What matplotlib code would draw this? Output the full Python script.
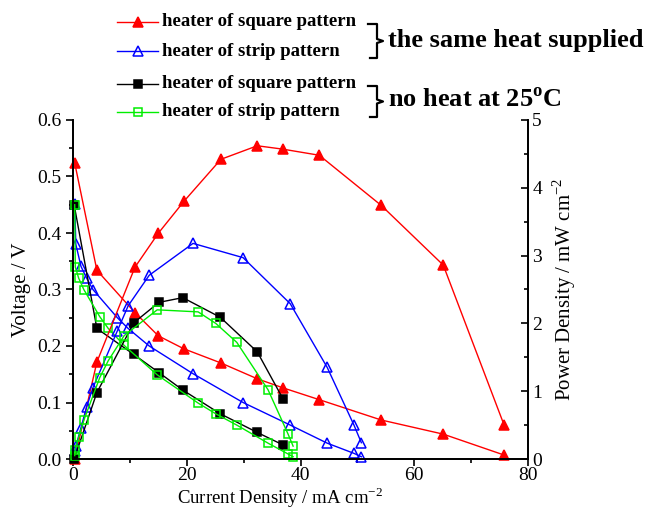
import matplotlib
matplotlib.use("Agg")
import matplotlib.pyplot as plt
from matplotlib.lines import Line2D
import matplotlib.ticker as ticker

plt.rcParams['font.family'] = ['Liberation Serif', 'DejaVu Serif']
plt.rcParams['mathtext.fontset'] = 'custom'
plt.rcParams['mathtext.rm'] = 'Liberation Serif'
plt.rcParams['mathtext.bf'] = 'Liberation Serif:bold'

# heated, square pattern
red_i = [0.3, 4.2, 10.9, 15.0, 19.5, 26.0, 32.4, 36.9, 43.3, 54.2, 65.1, 75.8]
red_v = [0.524, 0.334, 0.259, 0.218, 0.195, 0.170, 0.142, 0.126, 0.105, 0.069, 0.044, 0.007]
red_p = [0.0, 1.43, 2.83, 3.33, 3.80, 4.42, 4.62, 4.57, 4.48, 3.74, 2.86, 0.50]

# heated, strip pattern
blue_i = [0.3, 0.5, 1.4, 2.4, 3.5, 7.8, 9.7, 13.4, 21.1, 29.9, 38.2, 44.7, 49.4, 50.7]
blue_v = [0.452, 0.380, 0.341, 0.320, 0.300, 0.250, 0.231, 0.200, 0.151, 0.100, 0.060, 0.028, 0.010, 0.004]
blue_p = [0.12, 0.19, 0.46, 0.77, 1.05, 1.89, 2.26, 2.71, 3.18, 2.97, 2.29, 1.35, 0.50, 0.24]

# no heat, square pattern
black_i = [0.2, 4.2, 10.7, 15.1, 19.3, 25.9, 32.4, 36.9]
black_v = [0.45, 0.231, 0.185, 0.153, 0.122, 0.080, 0.047, 0.025]
black_p = [0.0, 0.98, 2.01, 2.31, 2.38, 2.09, 1.58, 0.89]

# no heat, strip pattern
green_i = [0.3, 0.4, 1.0, 1.9, 4.7, 6.2, 9.0, 14.8, 22.0, 25.1, 28.8, 34.3, 37.8, 38.7]
green_v = [0.45, 0.34, 0.32, 0.30, 0.252, 0.231, 0.201, 0.149, 0.099, 0.080, 0.060, 0.028, 0.009, 0.004]
green_p = [0.05, 0.14, 0.32, 0.57, 1.20, 1.45, 1.82, 2.20, 2.17, 2.00, 1.72, 1.02, 0.37, 0.19]

W, H = 656, 511
fig = plt.figure(figsize=(W / 100, H / 100), dpi=100)
ax = fig.add_axes([73 / W, 1 - 459 / H, (528 - 73) / W, (459 - 120) / H])
ax2 = ax.twinx()

styles = [
    ('red', '^', 'red', 7),
    ('blue', '^', 'none', 7),
    ('black', 's', 'black', 5.5),
    ('#00ee00', 's', 'none', 5.5),
]
series = [(red_i, red_v, red_p), (blue_i, blue_v, blue_p),
          (black_i, black_v, black_p), (green_i, green_v, green_p)]

for (c, m, fc, ms), (i, v, p) in zip(styles, series):
    kw = dict(color=c, marker=m, markerfacecolor=fc, markeredgecolor=c,
              markersize=ms, linewidth=1, markeredgewidth=1.1, clip_on=False)
    ax.plot(i, v, **kw)
    ax2.plot(i, p, **kw)

ax.set_xlim(0, 80)
ax.set_ylim(0, 0.6)
ax2.set_ylim(0, 5)
ax.xaxis.set_major_locator(ticker.MultipleLocator(20))
ax.xaxis.set_minor_locator(ticker.MultipleLocator(10))
ax.yaxis.set_major_locator(ticker.MultipleLocator(0.1))
ax.yaxis.set_minor_locator(ticker.MultipleLocator(0.05))
ax.yaxis.set_major_formatter(ticker.FormatStrFormatter('%.1f'))
ax2.yaxis.set_major_locator(ticker.MultipleLocator(1))
ax2.yaxis.set_minor_locator(ticker.MultipleLocator(0.5))

for a in (ax, ax2):
    a.spines['top'].set_visible(False)
    for s in a.spines.values():
        s.set_linewidth(1.3)
ax.tick_params(which='both', direction='out', labelsize=14, width=1.2)
ax.tick_params(axis='x', pad=1)
ax.tick_params(which='major', length=5)
ax.tick_params(which='minor', length=3)
ax2.tick_params(which='both', direction='in', labelsize=14, width=1.2, pad=3)
ax2.tick_params(which='major', length=5)
ax2.tick_params(which='minor', length=3)

ax.set_xlabel(r'Current Density / mA cm$^{\mathregular{-2}}$', fontsize=13.5)
ax.xaxis.set_label_coords(0.455, -0.077)
ax.set_ylabel('Voltage / V', fontsize=15, labelpad=4)
ax2.set_ylabel(r'Power Density / mW cm$^{\mathregular{-2}}$', fontsize=15, labelpad=6)

# legend drawn by hand in pixel positions
def fx(x):
    return x / W

def fy(y):
    return 1 - y / H

labels = ['heater of square pattern', 'heater of strip pattern',
          'heater of square pattern', 'heater of strip pattern']
rows = [22, 51, 84, 112]
for (c, m, fc, ms), lab, y in zip(styles, labels, rows):
    fig.add_artist(Line2D([fx(117), fx(158)], [fy(y), fy(y)], color=c, linewidth=1,
                          transform=fig.transFigure))
    fig.add_artist(Line2D([fx(137.5)], [fy(y)], color=c, marker=m, markerfacecolor=fc,
                          markeredgecolor=c, markersize=ms, markeredgewidth=1.1,
                          transform=fig.transFigure))
    fig.text(fx(162), fy(y), lab, fontsize=13.5, fontweight='bold', va='center', ha='left')

def brace(x0, y0, y1):
    xm = x0 + 9
    ym = (y0 + y1) / 2
    xs = [x0, xm, xm, xm + 6, xm, xm, x0 + 2]
    ys = [y0, y0, ym - 2, ym, ym + 2, y1, y1]
    fig.add_artist(Line2D([fx(x) for x in xs], [fy(y) for y in ys], color='black',
                          linewidth=1.6, transform=fig.transFigure))

brace(368, 24, 58)
brace(368, 86, 117)
fig.text(fx(388), fy(40), 'the same heat supplied', fontsize=19, fontweight='bold',
         va='center', ha='left')
fig.text(fx(388), fy(100), r'no heat at 25$^{\mathbf{o}}$C', fontsize=19, fontweight='bold',
         va='center', ha='left')

fig.savefig('out.png', dpi=100)
